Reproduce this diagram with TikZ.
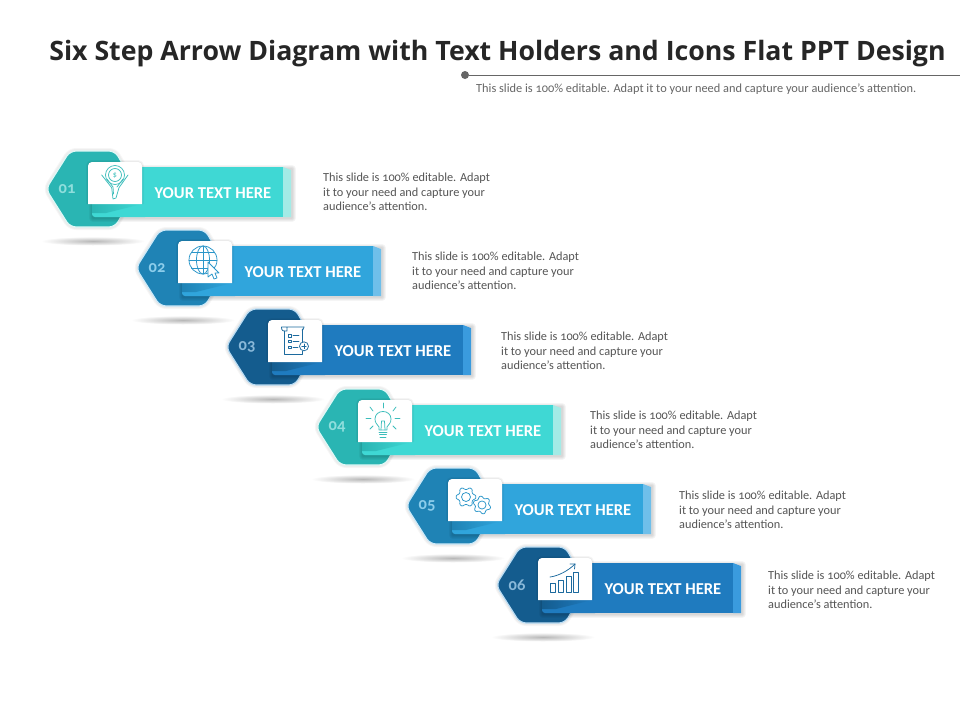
\documentclass[tikz,border=0pt]{standalone}
\usepackage{fontspec}
\setmainfont[Numbers=OldStyle]{Carlito}
\newfontfamily\titlefont{Open Sans}
\usetikzlibrary{calc}
\definecolor{tealD}{HTML}{2AB5B3}\definecolor{tealB}{HTML}{3FD8D4}\definecolor{tealS}{HTML}{A3EBE6}\definecolor{tealN}{HTML}{8FDEDC}\definecolor{tealI}{HTML}{3CBDBB}
\definecolor{blueD}{HTML}{1F83B5}\definecolor{blueB}{HTML}{30A5DC}\definecolor{blueS}{HTML}{6FBFEA}\definecolor{blueN}{HTML}{8CCDEB}\definecolor{blueI}{HTML}{2B96C9}
\definecolor{navyD}{HTML}{145C8E}\definecolor{navyB}{HTML}{1F7BBF}\definecolor{navyS}{HTML}{3A9BDE}\definecolor{navyN}{HTML}{8AB9D9}\definecolor{navyI}{HTML}{1C6A9E}
\definecolor{bodytxt}{HTML}{555555}
\tikzset{
 x=1pt,y=-1pt,
 titletext/.style={font=\titlefont\bfseries\fontsize{26.7}{30}\selectfont,text=black!85,inner sep=0,anchor=center},
 subtext/.style={font=\fontsize{12.35}{14}\selectfont,text=black!60,inner sep=0,anchor=west},
 desc/.style={font=\fontsize{12.3}{14.6}\selectfont,text=bodytxt,inner sep=0,anchor=north west,align=left},
 bartext/.style={font=\bfseries\fontsize{16.6}{18}\selectfont,text=white,inner sep=0},
 numtext/.style={font=\bfseries\fontsize{16.5}{18}\selectfont,inner sep=0},
 iconline/.style={line width=.75pt,line join=round,line cap=round},
}
% #1 x, #2 y, #3 number, #4 colour prefix, #5 icon code
\newcommand{\steprow}[5]{%
 \begin{scope}[shift={(#1,#2)}]
  \shade[inner color=black!28,outer color=white] (45,90) ellipse (52 and 4.5);
  \foreach \w in {6,4}{\draw[black,opacity=.035,line width=\w pt,line join=round,rounded corners=6pt] (-2,38) -- (22,0) -- (67,0) -- (89,38) -- (67,76) -- (22,76) -- cycle;}
  \draw[fill=#4D,draw=#4S!35!white,line width=1.2pt,line join=round,rounded corners=6pt] (-2,38) -- (22,0) -- (67,0) -- (89,38) -- (67,76) -- (22,76) -- cycle;
  \foreach \w in {8,6,4,2}{\draw[black,opacity=.04,line width=\w pt,line join=round] (45,18) rectangle (244,67);}
  \fill[#4B] (94,16) rectangle (235,66);
  \fill[#4S] (235,16) -- (243,19) -- (243,66) -- (235,66) -- cycle;
  \fill[#4B,rounded corners=3pt] (44,40) -- (44,66) -- (100,66) -- (100,40) -- cycle;
  \shade[left color=#4D,right color=#4B] (44,53) -- (94,53) -- (58,62) -- (44,62) -- cycle;
  \foreach \w in {4,2}{\draw[black,opacity=.04,line width=\w pt,line join=round,rounded corners=4pt] (40,53) -- (40,11) -- (94,11) -- (94,53);}
  \fill[white] (40,30) [rounded corners=4pt] -- (40,11) -- (94,11) [sharp corners] -- (94,53) -- (40,53) -- cycle;
  \node[numtext,text=#4N] (num#3) at (19,38) {0#3};
  \node[bartext] (txt#3) at (165,42.5) {YOUR TEXT HERE};
  \begin{scope}[shift={(40,11)},#4I,iconline]
   #5
  \end{scope}
 \end{scope}}
\newcommand{\gearicon}[4]{% x, y, R, phase
 \begin{scope}[shift={(#1,#2)}]
  \draw (0,0) circle ({#3*.45});
  \draw[rounded corners=1pt] \foreach \a [count=\i] in {0,60,...,300}{
     \ifnum\i=1 ({#4+\a-11}:#3) \else -- ({#4+\a-11}:#3) \fi
     -- ({#4+\a+11}:#3) -- ({#4+\a+19}:{#3*.76}) -- ({#4+\a+41}:{#3*.76}) } -- cycle;
 \end{scope}}
\begin{document}
\begin{tikzpicture}
\useasboundingbox (0,0) rectangle (960,720);
\fill[white] (0,0) rectangle (960,720);
\node[titletext] (title) at (497.5,54) {Six Step Arrow Diagram with Text Holders and Icons Flat PPT Design};
\coordinate (lineend) at (960,75);
\node[circle,fill=black!60,inner sep=0,minimum size=8pt] (dot) at (465,75) {};
\draw[black!60,line width=.8pt] (dot) -- (lineend);
\node[subtext] (sub) at (476,89) {This slide is 100\% editable. Adapt it to your need and capture your audience’s attention.};
\foreach \n/\dx/\dy in {1/323/173,2/412/252,3/501/332,4/590/411,5/679/491,6/768/571}{
 \node[desc] (desc\n) at (\dx,\dy) {This slide is 100\% editable. Adapt\\it to your need and capture your\\audience’s attention.};}
\steprow{48}{151}{1}{teal}{%
 \draw (27,13) circle (9.5); \draw (27,13) circle (6.5);
 \node[inner sep=0,font=\fontsize{8}{8}\selectfont,text=tealI] (dollar) at (27,13) {\$};
 \draw (13.7,13) -- (23.7,25.7) -- (25,37) -- (28,36) -- (31,25.7) -- (40,13);
 \draw (19,17) -- (25,25) -- (25.5,32);\draw (35,17) -- (29,25);}
\steprow{138}{230}{2}{blue}{%
 \draw (25,19) circle (14); \draw (25,19) ellipse (6.5 and 14);
 \draw (25,5) -- (25,33); \draw (11,19) -- (39,19);
 \draw (13.5,11) -- (36.5,11); \draw (13.5,27) -- (32,27);
 \draw[fill=white] (30,21) -- (41,32) -- (37,32) -- (39,37) -- (36,38) -- (34,33) -- (30,36) -- cycle;}
\steprow{228}{309}{3}{navy}{%
 \draw (13.4,7) -- (36,7) (13.4,7) .. controls (13.4,11) and (16,11) .. (16,11) -- (19,11) -- (19,7);
 \draw (16,11) -- (16,34) -- (34,34) -- (34,31);
 \draw (34,22) -- (34,9);\draw (36,7) .. controls (36,10) and (34,10) .. (34,10);
 \draw (20,14.5) rectangle (23,17); \draw (20,20) rectangle (23,22.5); \draw (20,26) rectangle (23,28.5);
 \draw (25,15.7) -- (31,15.7); \draw (25,21.3) -- (31,21.3); \draw (25,27.3) -- (30,27.3);
 \draw (36,26.3) circle (4.5); \draw (36,24) -- (36,28.6); \draw (33.7,26.3) -- (38.3,26.3);}
\steprow{318}{389}{4}{teal}{%
 \draw (21,30) -- (21,27) .. controls (19,24) and (17,23) .. (17,19) .. controls (17,9) and (33,9) .. (33,19) .. controls (33,23) and (31,24) .. (29,27) -- (29,30) -- cycle;
 \draw (23,30) -- (23.5,21) -- (26.5,21) -- (27,30);
 \draw (21,32) -- (29,32); \draw (21.5,34.5) -- (28.5,34.5); \draw (22,37) -- (28,37);
 \draw (25,3) -- (25,8); \draw (12,7) -- (15,11); \draw (38,7) -- (35,11);
 \draw (8,18) -- (13,18); \draw (37,18) -- (42,18); \draw (12,29) -- (15,26); \draw (38,29) -- (35,26);}
\steprow{408}{468}{5}{blue}{%
 \gearicon{18}{18}{10}{0}
 \gearicon{34}{26}{9}{20}}
\steprow{498}{547}{6}{navy}{%
 \draw (12.3,25.3) rectangle (17.3,34.3);
 \draw (20,22.7) rectangle (25.6,34.3);
 \draw (28,18.3) rectangle (33.6,34.3);
 \draw (35.7,14.3) rectangle (40.7,34.3);
 \draw (12,19) .. controls (20,18) and (30,13) .. (37,6);
 \draw (32,6) -- (37,6) -- (36.5,11);}
\end{tikzpicture}
\end{document}
